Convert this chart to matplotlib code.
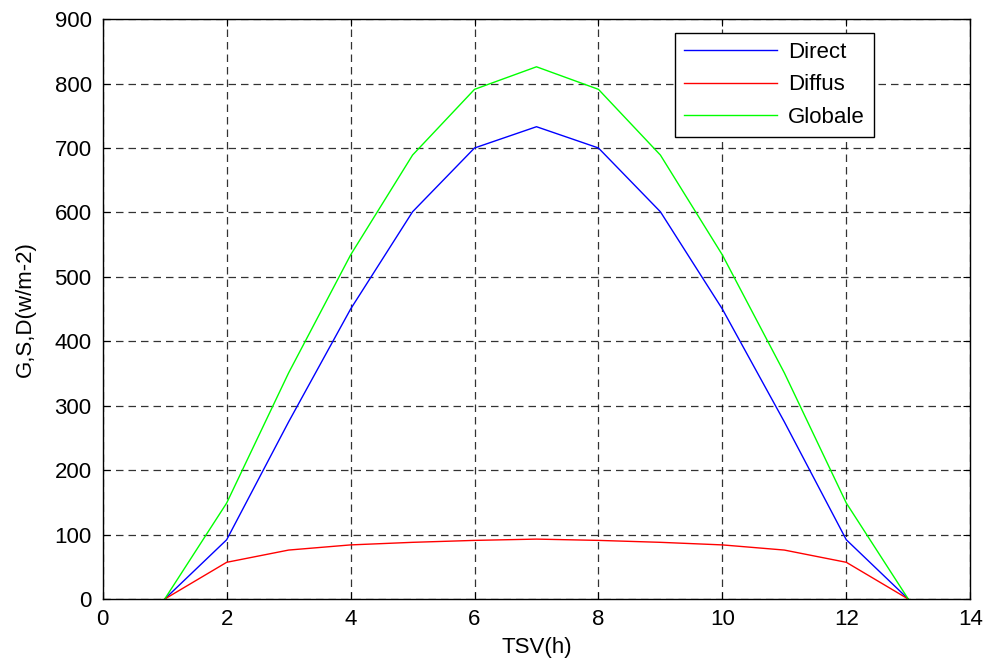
import matplotlib
matplotlib.use("Agg")
import matplotlib.pyplot as plt

# Heures solaires vraies et éclairements (W/m2)
heures = [1, 2, 3, 4, 5, 6, 7, 8, 9, 10, 11, 12, 13]
direct = [0, 92, 275, 450, 601, 700, 733, 700, 601, 450, 275, 92, 0]
diffus = [0, 57, 76, 84, 88, 91, 93, 91, 88, 84, 76, 57, 0]
globale = [d + s for d, s in zip(direct, diffus)]

plt.rcParams['font.family'] = ['Liberation Sans', 'DejaVu Sans']

fig = plt.figure(figsize=(9.88, 6.59), dpi=100)
ax = fig.add_axes([0.104, 0.091, 0.878, 0.880])

ax.plot(heures, direct, color='#0000ff', linewidth=1.0, label='Direct')
ax.plot(heures, diffus, color='#ff0000', linewidth=1.0, label='Diffus')
ax.plot(heures, globale, color='#00ff00', linewidth=1.0, label='Globale')

ax.set_xlim(0, 14)
ax.set_ylim(0, 900)
ax.set_xticks(range(0, 15, 2))
ax.set_yticks(range(0, 901, 100))
ax.tick_params(direction='in', labelsize=16, length=5, top=True, right=True)
ax.tick_params(axis='x', pad=7)
ax.tick_params(axis='y', pad=8)
ax.grid(True, color='black', linestyle=(0, (6, 4)), linewidth=0.9, alpha=0.8)
for s in ax.spines.values():
    s.set_linewidth(1.0)

ax.set_xlabel('TSV(h)', fontsize=16, labelpad=5)
ax.set_ylabel('G,S,D(w/m-2)', fontsize=16, labelpad=13)

leg = ax.legend(loc='upper right', bbox_to_anchor=(0.889, 0.976), fontsize=16,
                fancybox=False, framealpha=1, edgecolor='black',
                handlelength=4.2, handletextpad=0.5, labelspacing=0.52,
                borderpad=0.4, borderaxespad=0)
leg.get_frame().set_linewidth(1.0)

fig.savefig('out.png', dpi=100)
